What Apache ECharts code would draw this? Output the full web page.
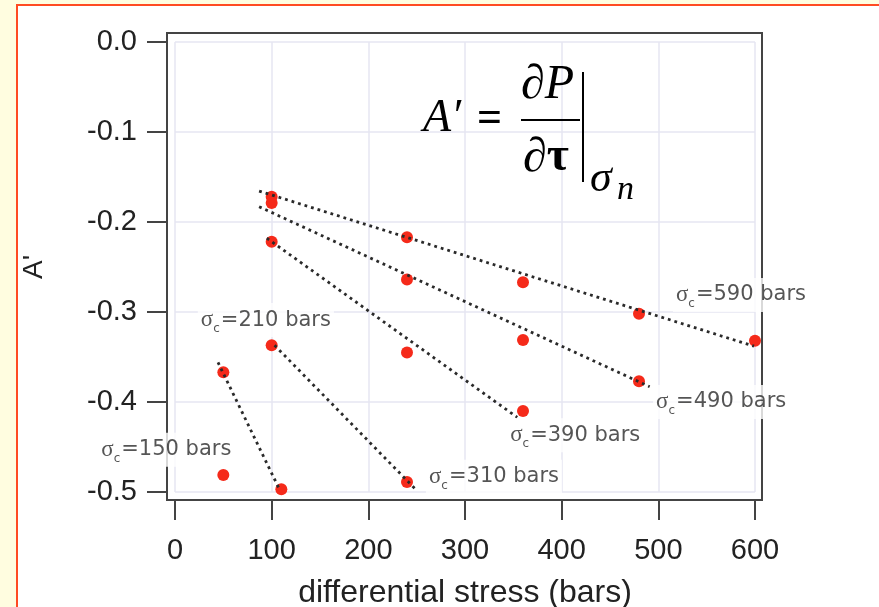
<!DOCTYPE html>
<html>
<head>
<meta charset="utf-8">
<script src="https://cdn.jsdelivr.net/npm/echarts@6/dist/echarts.min.js"></script>
<style>
  html, body { margin: 0; padding: 0; background: #FFFDE0; overflow: hidden; }
  #panel { position: absolute; left: 16px; top: 4px; width: 900px; height: 700px; background: #fff; border: 2px solid #ff4b22; }
  #chart { position: absolute; left: 0; top: 0; width: 879px; height: 607px; }
</style>
</head>
<body>
<div id="panel"></div>
<div id="chart"></div>
<script>
// ---- data ----
const xTicks = [0, 100, 200, 300, 400, 500, 600];
const yTicks = [0.0, -0.1, -0.2, -0.3, -0.4, -0.5];
const sigmaC = [150, 210, 310, 390, 490, 590];

const stress150 = [50];
const aPrime150 = [-0.481];
const stress210 = [50, 110];
const aPrime210 = [-0.367, -0.497];
const stress310 = [100, 240];
const aPrime310 = [-0.337, -0.489];
const stress390 = [100, 240, 360];
const aPrime390 = [-0.222, -0.345, -0.410];
const stress490 = [100, 240, 360, 480];
const aPrime490 = [-0.179, -0.264, -0.331, -0.377];
const stress590 = [100, 240, 360, 480, 600];
const aPrime590 = [-0.172, -0.217, -0.267, -0.302, -0.332];

// dotted fit lines (end points)
const fit210X = [44.5, 108];   const fit210Y = [-0.356, -0.497];
const fit310X = [103, 248];    const fit310Y = [-0.337, -0.496];
const fit390X = [95, 354];     const fit390Y = [-0.218, -0.417];
const fit490X = [87, 491];     const fit490Y = [-0.183, -0.383];
const fit590X = [87, 599];     const fit590Y = [-0.1656, -0.338];

// annotation anchor positions (data coords) for the sigma_c labels
const labelX = [-9, 94, 330, 414, 565, 585.5];
const labelY = [-0.453, -0.309, -0.483, -0.437, -0.400, -0.281];

const pts = (xs, ys) => xs.map((x, i) => [x, ys[i]]);

const FONT = '"Liberation Sans", Arial, sans-serif';
const LFONT = '"DejaVu Sans", sans-serif';
const SERIF = '"Liberation Serif", "Times New Roman", serif';
const RED = '#f52a1a';
const DOT = '#2a2a2a';

const scatter = (name, xs, ys) => ({
  name, type: 'scatter', xAxisIndex: 1, yAxisIndex: 1,
  data: pts(xs, ys), symbolSize: 12, clip: false,
  itemStyle: { color: RED, opacity: 1 }, z: 3
});
const fit = (name, xs, ys) => ({
  name, type: 'line', xAxisIndex: 1, yAxisIndex: 1,
  data: pts(xs, ys), showSymbol: false, symbol: 'none', clip: false,
  lineStyle: { color: DOT, width: 2.8, type: [2.8, 4], cap: 'butt' }, z: 4,
  silent: true
});

const chart = echarts.init(document.getElementById('chart'), null, { renderer: 'canvas' });

const option = {
  backgroundColor: 'transparent',
  animation: false,
  grid: [
    { left: 167, top: 33, right: 117, bottom: 107, show: true, borderColor: '#444', borderWidth: 2, backgroundColor: 'transparent', containLabel: false, outerBoundsMode: 'none' },
    { left: 175, top: 42, right: 124, bottom: 115, show: false, containLabel: false, outerBoundsMode: 'none' }
  ],
  xAxis: [
    { gridIndex: 0, type: 'value', min: 0, max: 1, show: false },
    {
      gridIndex: 1, type: 'value', min: xTicks[0], max: xTicks[xTicks.length - 1], interval: 100,
      position: 'bottom', offset: 8,
      axisLine: { show: false, onZero: false },
      axisTick: { show: true, length: 20, lineStyle: { color: '#444', width: 2 } },
      axisLabel: { fontFamily: FONT, fontSize: 29, color: '#222', margin: 36 },
      splitLine: { show: true, lineStyle: { color: '#e6e6f2', width: 1.5 } },
      name: 'differential stress (bars)', nameLocation: 'middle', nameGap: 77,
      nameTextStyle: { fontFamily: FONT, fontSize: 32, color: '#222' }
    }
  ],
  yAxis: [
    { gridIndex: 0, type: 'value', min: 0, max: 1, show: false },
    {
      gridIndex: 1, type: 'value', min: yTicks[yTicks.length - 1], max: yTicks[0], interval: 0.1,
      position: 'left', offset: 8,
      axisLine: { show: false, onZero: false },
      axisTick: { show: true, length: 20, lineStyle: { color: '#444', width: 2 } },
      axisLabel: { fontFamily: FONT, fontSize: 29, color: '#222', margin: 30, formatter: v => v.toFixed(1) },
      splitLine: { show: true, lineStyle: { color: '#e6e6f2', width: 1.5 } },
      name: "A'", nameLocation: 'middle', nameGap: 119,
      nameTextStyle: { fontFamily: FONT, fontSize: 28, color: '#222' }
    }
  ],
  series: [
    scatter('σc=150', stress150, aPrime150),
    scatter('σc=210', stress210, aPrime210),
    scatter('σc=310', stress310, aPrime310),
    scatter('σc=390', stress390, aPrime390),
    scatter('σc=490', stress490, aPrime490),
    scatter('σc=590', stress590, aPrime590),
    fit('fit 210', fit210X, fit210Y),
    fit('fit 310', fit310X, fit310Y),
    fit('fit 390', fit390X, fit390Y),
    fit('fit 490', fit490X, fit490Y),
    fit('fit 590', fit590X, fit590Y),
    {
      name: 'labels', type: 'scatter', xAxisIndex: 1, yAxisIndex: 1, clip: false, silent: true,
      symbolSize: 1, itemStyle: { color: 'rgba(0,0,0,0)' }, z: 10,
      data: sigmaC.map((s, i) => ({ value: [labelX[i], labelY[i]] })),
      label: {
        show: true, position: 'inside',
        formatter: p => '{s|σ}{c|c}{t|=' + sigmaC[p.dataIndex] + ' bars}',
        backgroundColor: '#fff', padding: [2, 3],
        rich: {
          s: { fontFamily: SERIF, fontSize: 23, color: '#2a2a2a' },
          c: { fontFamily: LFONT, fontSize: 12, color: '#2a2a2a', padding: [18, 1, 0, 0] },
          t: { fontFamily: LFONT, fontSize: 21, color: '#2a2a2a' }
        }
      }
    }
  ],
  graphic: [
    { type: 'text', x: 423, y: 142, z: 20, style: { text: 'A′', font: 'italic 46px ' + SERIF, fill: '#000', align: 'left', verticalAlign: 'bottom' } },
    { type: 'text', x: 477, y: 142, z: 20, style: { text: '=', font: 'bold 44px ' + SERIF, fill: '#000', align: 'left', verticalAlign: 'bottom' } },
    { type: 'line', z: 20, shape: { x1: 521, y1: 120, x2: 580, y2: 120 }, style: { stroke: '#000', lineWidth: 2 } },
    { type: 'text', x: 521, y: 109, z: 20, style: { text: '∂P', font: 'italic 48px ' + SERIF, fill: '#000', align: 'left', verticalAlign: 'bottom' } },
    { type: 'text', x: 523, y: 182, z: 20, style: { text: '{d|∂}{t|τ}', fill: '#000', align: 'left', verticalAlign: 'bottom',
        rich: { d: { font: 'italic 48px ' + SERIF, fill: '#000' }, t: { font: 'bold 48px ' + SERIF, fill: '#000' } } } },
    { type: 'line', z: 20, shape: { x1: 583, y1: 72, x2: 583, y2: 182 }, style: { stroke: '#000', lineWidth: 2 } },
    { type: 'text', x: 590, y: 201, z: 20, style: { text: 'σ', font: 'italic 44px ' + SERIF, fill: '#000', align: 'left', verticalAlign: 'bottom' } },
    { type: 'text', x: 617, y: 207, z: 20, style: { text: 'n', font: 'italic 34px ' + SERIF, fill: '#000', align: 'left', verticalAlign: 'bottom' } }
  ]
};
chart.setOption(option);
</script>
</body>
</html>
